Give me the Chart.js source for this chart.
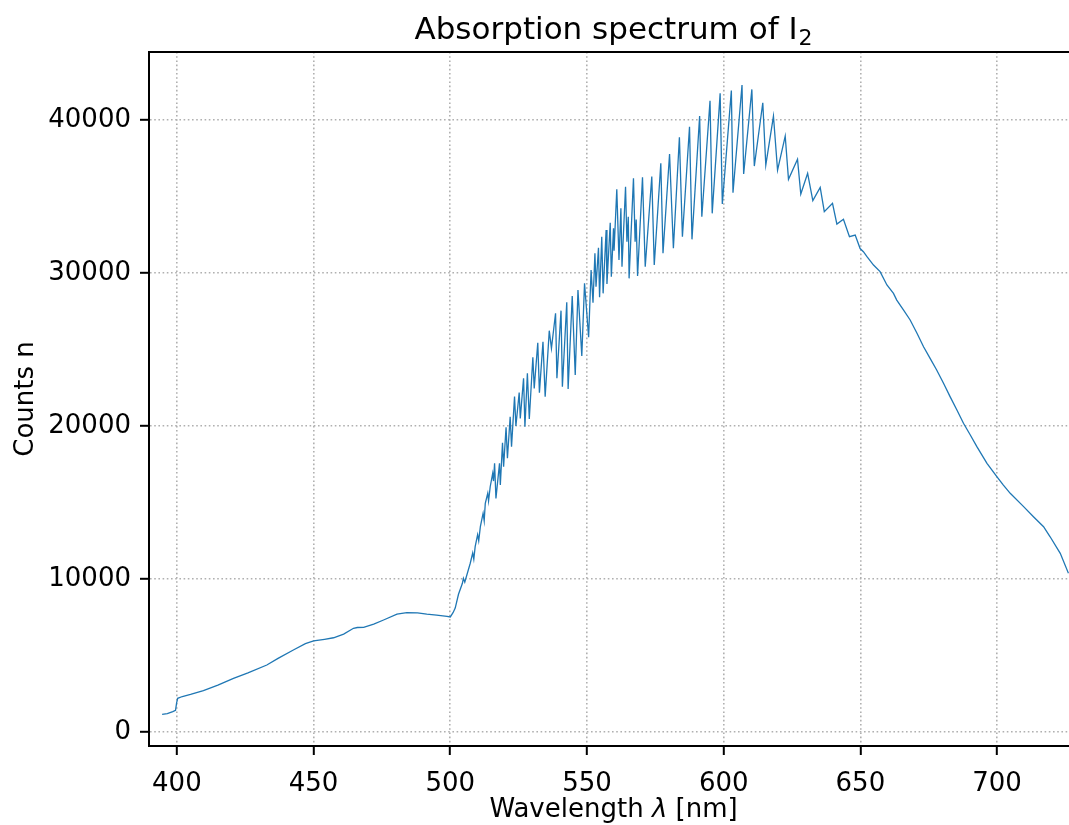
<!DOCTYPE html>
<html>
<head>
<meta charset="utf-8">
<script src="https://cdn.jsdelivr.net/npm/chart.js@4/dist/chart.umd.min.js"></script>
<style>
  html, body { margin: 0; padding: 0; background: #fff; }
  #wrap { width: 1069px; height: 825px; }
</style>
</head>
<body>
<div id="wrap"><canvas id="c" width="1069" height="825"></canvas></div>
<script>
// ---- data ----
const titleMain = 'Absorption spectrum of I';
const titleSub = '2';
const xLabelParts = ['Wavelength ', '\u03bb', ' [nm]'];
const yLabel = 'Counts n';
const xTickValues = [400, 450, 500, 550, 600, 650, 700];
const yTickValues = [0, 10000, 20000, 30000, 40000];
const xRange = [389.8, 726.3];
const yRange = [-915, 44445];

const wavelengths = [
  394.6, 396.5, 398.5, 399.5, 399.9, 400.3, 402, 405, 409.7, 415, 420.7, 426, 432.9, 437, 442.6, 447, 450, 454,
  457.3, 461, 464.6, 466, 468.3, 472, 475.6, 480.5, 484.1, 488, 491.4, 495, 498.8, 500, 501, 501.8, 503, 504.4,
  504.8, 505.3, 507.3, 508.2, 508.6, 509.1, 510, 510.4, 511, 512, 512.4, 512.8, 513.7, 514, 514.6, 515.5, 515.8,
  516.2, 516.7, 518.0, 518.3, 519.1, 519.5, 520.4, 520.9, 521.9, 522.4, 523.5, 524.0, 525.2, 525.6, 526.8, 527.3,
  528.2, 528.9, 530.2, 530.7, 532.0, 532.6, 533.9, 534.7, 536.2, 537.0, 538.5, 539.0, 540.5, 541.0, 542.6, 543.1,
  544.6, 545.7, 546.7, 548.1, 549.1, 550.6, 551.5, 552.2, 552.9, 553.3, 554.2, 554.6, 555.4, 555.9, 557.0, 557.3,
  558.5, 558.9, 559.7, 559.9, 560.9, 561.7, 562.4, 562.8, 564.1, 564.6, 565.1, 565.4, 567.0, 567.6, 568.0, 568.5,
  570.3, 571.3, 573.7, 574.6, 577.0, 577.8, 580.2, 581.6, 583.8, 584.9, 587.5, 588.4, 591.2, 592.0, 595.0, 595.8,
  598.7, 599.5, 602.8, 603.4, 606.7, 607.3, 610.3, 611.2, 614.3, 615.4, 618.2, 619.7, 622.5, 623.7, 627.0, 628.2,
  630.7, 632.6, 635.3, 636.8, 639.8, 641.4, 643.8, 646.0, 648.1, 649.9, 651.1, 652.4, 652.9, 654.8, 657.2, 659.7,
  662.1, 663.3, 665.8, 668.2, 670.7, 673.1, 675.5, 677.9, 680.4, 682.8, 685.3, 687.7, 690.2, 692.6, 696.3, 699.9,
  702.3, 704.8, 709.7, 713.3, 717.0, 719.4, 723.1, 726.1
];
const counts = [
  1150, 1200, 1330, 1420, 1900, 2200, 2320, 2460, 2700, 3060, 3510, 3870, 4380, 4810, 5360, 5780, 5950, 6060,
  6160, 6400, 6780, 6830, 6840, 7050, 7320, 7710, 7800, 7790, 7710, 7640, 7560, 7520, 7800, 8100, 9000, 9700,
  10040, 9800, 11030, 11700, 11300, 12110, 12900, 12500, 13420, 14300, 13800, 14950, 15600, 15100, 16030, 16900, 16400,
  17560, 15270, 17560, 16140, 18910, 17340, 19920, 17890, 20610, 18650, 21920, 20000, 22180, 20500, 23120, 19950,
  23440, 20460, 24490, 22460, 25440, 22180, 25510, 21920, 26230, 25080, 27370, 23120, 27540, 22570, 28090, 22420,
  28500, 23330, 28890, 24570, 29330, 25800, 30200, 28060, 31290, 29110, 31650, 28410, 32370, 28670, 32810, 29280,
  33290, 29760, 32920, 31460, 35470, 30850, 34230, 30410, 35640, 32050, 33680, 29650, 36190, 32050, 33500, 29800,
  36260, 30410, 36300, 30520, 37170, 31290, 37780, 31620, 38870, 32370, 39560, 32200, 40260, 33680, 41260, 33900,
  41740, 34510, 41920, 35250, 42290, 36470, 42000, 36990, 41130, 37060, 40260, 36730, 38950, 36120, 37430, 35160,
  36510, 34730, 35600, 34010, 34550, 33200, 33510, 32370, 32480, 31600, 31390, 31070, 30960, 30520, 30090, 29220,
  28670, 28230, 27580, 26930, 26060, 25180, 24420, 23660, 22790, 21920, 21050, 20180, 19410, 18650, 17560, 16690,
  16140, 15600, 14730, 14070, 13420, 12760, 11680, 10370
];

const FONT = "'DejaVu Sans', sans-serif";
const TEXT_CENTER_X = 613.5;

const points = wavelengths.map((w, i) => ({ x: w, y: counts[i] }));

const framePlugin = {
  id: 'framePlugin',
  afterDraw(chart) {
    const { ctx, chartArea: a } = chart;
    ctx.save();
    // top spine
    ctx.strokeStyle = '#000';
    ctx.lineWidth = 2;
    ctx.beginPath();
    ctx.moveTo(a.left - 1, a.top);
    ctx.lineTo(a.right + 1, a.top);
    ctx.stroke();
    ctx.fillStyle = '#000';
    ctx.textBaseline = 'alphabetic';
    ctx.textAlign = 'left';
    // title with subscript
    const mainFont = '31px ' + FONT, subFont = '22px ' + FONT;
    ctx.font = mainFont; const w1 = ctx.measureText(titleMain).width;
    ctx.font = subFont; const w2 = ctx.measureText(titleSub).width;
    let x0 = TEXT_CENTER_X - (w1 + w2 + 1) / 2;
    const base = 39;
    ctx.font = mainFont; ctx.fillText(titleMain, x0, base);
    ctx.font = subFont; ctx.fillText(titleSub, x0 + w1 + 1, base + 6);
    // x-axis title, lambda in italic
    const fonts = ['26px ' + FONT, 'italic 26px ' + FONT, '26px ' + FONT];
    const widths = xLabelParts.map((t, i) => { ctx.font = fonts[i]; return ctx.measureText(t).width; });
    let x = TEXT_CENTER_X - widths.reduce((p, q) => p + q, 0) / 2;
    xLabelParts.forEach((t, i) => { ctx.font = fonts[i]; ctx.fillText(t, x, 817); x += widths[i]; });
    ctx.restore();
  }
};

new Chart(document.getElementById('c'), {
  type: 'line',
  data: {
    datasets: [{
      data: points,
      borderColor: '#1f77b4',
      borderWidth: 1.3,
      pointRadius: 0,
      fill: false,
      tension: 0
    }]
  },
  options: {
    responsive: false,
    animation: false,
    events: [],
    layout: { padding: { top: 52, left: 0, right: 0, bottom: 0 } },
    plugins: { legend: { display: false }, tooltip: { enabled: false }, title: { display: false } },
    scales: {
      x: {
        type: 'linear',
        min: xRange[0],
        max: xRange[1],
        afterBuildTicks: s => { s.ticks = xTickValues.map(v => ({ value: v })); },
        afterFit: s => { s.height = 79; s.paddingLeft = 0; s.paddingRight = 0; },
        ticks: { color: '#000', font: { family: FONT, size: 26 }, padding: 14, maxRotation: 0, autoSkip: false },
        grid: { color: '#b0b0b0', lineWidth: 1.6, tickColor: '#000', tickWidth: 2, tickLength: 9, drawTicks: true },
        border: { display: true, color: '#000', width: 2, dash: [1.6, 2.6] },
        title: { display: false }
      },
      y: {
        type: 'linear',
        min: yRange[0],
        max: yRange[1],
        afterBuildTicks: s => { s.ticks = yTickValues.map(v => ({ value: v })); },
        afterFit: s => { s.width = 149; s.paddingTop = 0; s.paddingBottom = 0; },
        ticks: { color: '#000', font: { family: FONT, size: 26 }, padding: 9, autoSkip: false, callback: v => String(v) },
        grid: { color: '#b0b0b0', lineWidth: 1.6, tickColor: '#000', tickWidth: 2, tickLength: 9, drawTicks: true },
        border: { display: true, color: '#000', width: 2, dash: [1.6, 2.6] },
        title: { display: true, text: yLabel, color: '#000', font: { family: FONT, size: 26 }, padding: { top: 11, bottom: 0 } }
      }
    }
  },
  plugins: [framePlugin]
});
</script>
</body>
</html>
